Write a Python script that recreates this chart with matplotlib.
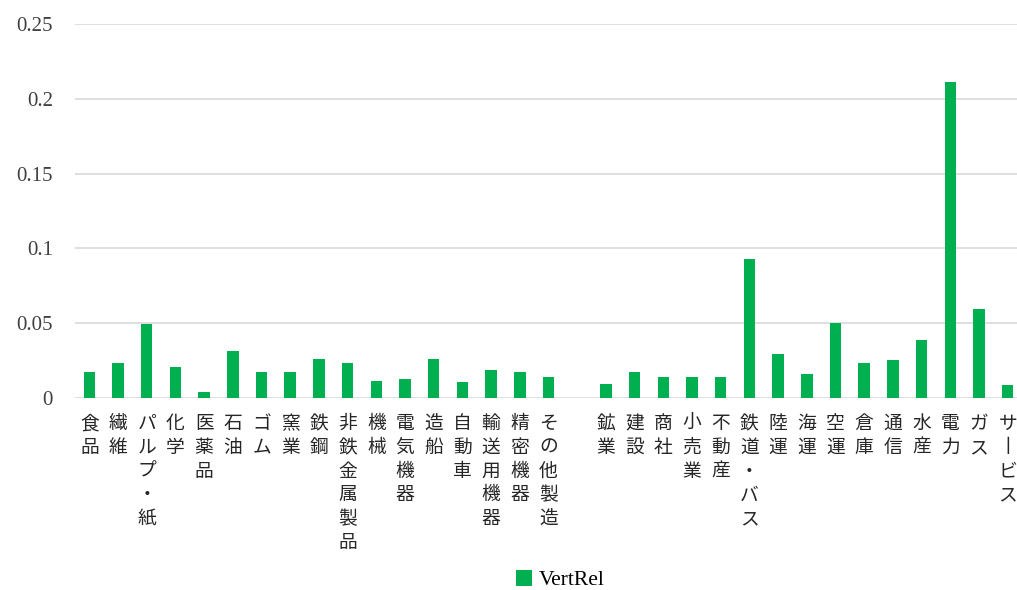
import matplotlib
matplotlib.use("Agg")
import matplotlib.pyplot as plt
from matplotlib.patches import Patch

plt.rcParams['font.family'] = ['Noto Sans CJK JP', 'DejaVu Sans']

# Industry categories (blank entry separates manufacturing from the rest)
categories = [
    "食品", "繊維", "パルプ・紙", "化学", "医薬品", "石油", "ゴム", "窯業", "鉄鋼",
    "非鉄金属製品", "機械", "電気機器", "造船", "自動車", "輸送用機器", "精密機器",
    "その他製造", "",
    "鉱業", "建設", "商社", "小売業", "不動産", "鉄道・バス", "陸運", "海運", "空運",
    "倉庫", "通信", "水産", "電力", "ガス", "サービス",
]

vert_rel = [
    0.0175, 0.0237, 0.0495, 0.0205, 0.0042, 0.0315, 0.0175, 0.0175, 0.0262,
    0.0232, 0.0115, 0.0130, 0.0262, 0.0105, 0.0190, 0.0175,
    0.0142, None,
    0.0095, 0.0175, 0.0142, 0.0142, 0.0142, 0.0926, 0.0292, 0.0158, 0.0503,
    0.0236, 0.0252, 0.0385, 0.2110, 0.0597, 0.0087,
]

series_name = "VertRel"
y_ticks = [0, 0.05, 0.1, 0.15, 0.2, 0.25]
y_tick_labels = ["0", "0.05", "0.1", "0.15", "0.2", "0.25"]

bar_color = "#00B050"
grid_color = "#D9D9D9"

W, H = 1017, 590
fig = plt.figure(figsize=(W / 100, H / 100), dpi=100)
ax = fig.add_axes([75 / W, (H - 398) / H, (1022 - 75) / W, (398 - 24) / H])

x = list(range(len(categories)))
xs = [i for i, v in zip(x, vert_rel) if v is not None]
vs = [v for v in vert_rel if v is not None]
ax.bar(xs, vs, width=0.4, color=bar_color, zorder=3)

ax.set_xlim(-0.5, len(categories) - 0.5)
ax.set_ylim(0, 0.25)

# horizontal gridlines, including the zero baseline
ax.set_yticks(y_ticks)
ax.set_yticklabels(y_tick_labels, family=['Liberation Serif', 'DejaVu Serif'],
                   fontsize=15, color="#404040")
ax.yaxis.grid(True, color=grid_color, linewidth=1.2, zorder=0)
ax.tick_params(axis='y', length=0, pad=16)

# vertical (stacked) category labels
def stack(label):
    return "\n".join(ch if ch != "ー" else "丨" for ch in label)

ax.set_xticks(x)
ax.set_xticklabels([stack(c) for c in categories], fontsize=13.5,
                   color="#262626", linespacing=1.17, va='top')
ax.tick_params(axis='x', length=0, pad=11)

for s in ax.spines.values():
    s.set_visible(False)

handle = Patch(facecolor=bar_color, edgecolor='none')
fig.legend([handle], [series_name], loc='center', bbox_to_anchor=(560 / W, 1 - 580 / H),
           frameon=False, handlelength=0.75, handleheight=0.75, handletextpad=0.3,
           prop={'family': ['Liberation Serif', 'DejaVu Serif'], 'size': 15.5})

fig.savefig("out.png", dpi=100)
